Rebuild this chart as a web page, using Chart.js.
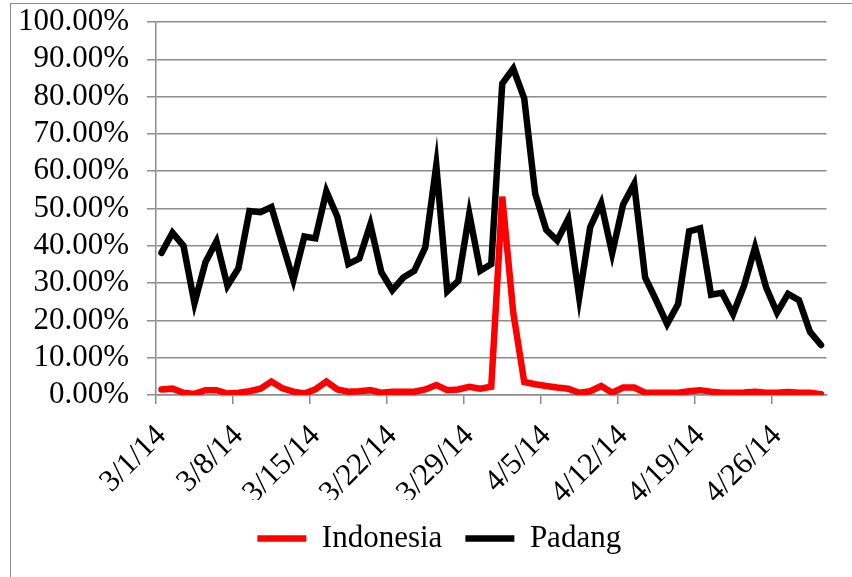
<!DOCTYPE html>
<html>
<head>
<meta charset="utf-8">
<script src="https://cdn.jsdelivr.net/npm/chart.js@4.4.1/dist/chart.umd.min.js"></script>
<style>
  html, body { margin: 0; padding: 0; background: #fff; overflow: hidden; }
  #wrap { position: relative; width: 852px; height: 577px; }
  #frame { position: absolute; left: 10px; top: 3px; width: 900px; height: 700px; border: 1.5px solid #8a8a8a; pointer-events: none; }
</style>
</head>
<body>
<div id="wrap">
  <canvas id="myChart" width="852" height="577"></canvas>
  <div id="frame"></div>
</div>
<script>
const dates = [
  "3/1/14", "3/2/14", "3/3/14", "3/4/14", "3/5/14", "3/6/14", "3/7/14",
  "3/8/14", "3/9/14", "3/10/14", "3/11/14", "3/12/14", "3/13/14", "3/14/14",
  "3/15/14", "3/16/14", "3/17/14", "3/18/14", "3/19/14", "3/20/14", "3/21/14",
  "3/22/14", "3/23/14", "3/24/14", "3/25/14", "3/26/14", "3/27/14", "3/28/14",
  "3/29/14", "3/30/14", "3/31/14", "4/1/14", "4/2/14", "4/3/14", "4/4/14",
  "4/5/14", "4/6/14", "4/7/14", "4/8/14", "4/9/14", "4/10/14", "4/11/14",
  "4/12/14", "4/13/14", "4/14/14", "4/15/14", "4/16/14", "4/17/14", "4/18/14",
  "4/19/14", "4/20/14", "4/21/14", "4/22/14", "4/23/14", "4/24/14", "4/25/14",
  "4/26/14", "4/27/14", "4/28/14", "4/29/14", "4/30/14"
];

const indonesia = [
  1.5, 1.7, 0.6, 0.3, 1.3, 1.3, 0.4, 0.6, 1.0, 1.7,
  3.6, 1.8, 0.9, 0.4, 1.5, 3.6, 1.5, 0.9, 1.0, 1.3,
  0.6, 0.9, 0.9, 0.9, 1.5, 2.7, 1.3, 1.5, 2.2, 1.7,
  2.2, 53.2, 22.1, 3.5, 2.9, 2.4, 2.0, 1.7, 0.6, 1.0,
  2.4, 0.6, 2.0, 2.0, 0.6, 0.6, 0.6, 0.6, 1.0, 1.3,
  0.9, 0.6, 0.6, 0.7, 0.9, 0.6, 0.6, 0.8, 0.6, 0.6,
  0.2
];

const padang = [
  38.1, 43.5, 40.0, 24.6, 35.6, 41.2, 29.3, 34.0, 49.3, 49.0,
  50.4, 40.5, 30.8, 42.5, 42.0, 54.6, 47.8, 35.1, 36.6, 45.7,
  32.9, 28.1, 31.5, 33.3, 39.6, 61.6, 27.8, 30.6, 48.6, 33.3,
  35.1, 83.5, 87.5, 79.5, 53.9, 44.3, 41.4, 47.2, 26.2, 45.0,
  51.4, 38.0, 51.1, 56.6, 31.5, 25.4, 19.0, 24.4, 43.9, 44.7,
  26.9, 27.4, 21.7, 29.3, 39.6, 28.9, 22.1, 27.1, 25.4, 16.9,
  13.4
];

const yTicks = [0, 10, 20, 30, 40, 50, 60, 70, 80, 90, 100];

const serif = "'Liberation Serif', 'Times New Roman', serif";
const gridGrey = "#8c8c8c";

// legend sits a bit right of the canvas centre in the original
const legendShift = {
  id: "legendShift",
  afterLayout(chart) {
    chart.legend.left += 52;
  },
};

new Chart("myChart", {
  type: "line",
  data: {
    labels: dates,
    datasets: [
      {
        label: "Indonesia",
        data: indonesia,
        borderColor: "#ff0000",
        backgroundColor: "#ff0000",
        borderWidth: 6.5,
        borderCapStyle: "round",
        pointRadius: 0,
        tension: 0,
        fill: false,
      },
      {
        label: "Padang",
        data: padang,
        borderColor: "#000000",
        backgroundColor: "#000000",
        borderWidth: 6.5,
        borderCapStyle: "round",
        pointRadius: 0,
        tension: 0,
        fill: false,
      },
    ],
  },
  plugins: [legendShift],
  options: {
    responsive: false,
    animation: false,
    layout: { padding: { left: 0, right: 25.5, top: 22, bottom: 13 } },
    plugins: {
      tooltip: { enabled: false },
      legend: {
        position: "bottom",
        labels: {
          usePointStyle: true,
          pointStyle: "line",
          pointStyleWidth: 49,
          padding: 23,
          color: "#000",
          font: { family: serif, size: 31 },
        },
      },
    },
    scales: {
      x: {
        offset: true,
        grid: {
          offset: true,
          drawOnChartArea: false,
          drawTicks: true,
          tickLength: 9,
          lineWidth: 1.5,
          color: (ctx) => (ctx.index % 7 === 0 ? gridGrey : "rgba(0,0,0,0)"),
        },
        border: { display: true, color: gridGrey, width: 1.5 },
        ticks: {
          autoSkip: false,
          minRotation: 45,
          maxRotation: 45,
          padding: 14,
          color: "#000",
          font: { family: serif, size: 31 },
          callback: function (val, i) {
            return i % 7 === 0 ? dates[i] : "";
          },
        },
        afterFit: (scale) => {
          scale.height = 105;
          scale.paddingLeft = 0;
          scale.paddingRight = 0;
        },
      },
      y: {
        min: 0,
        max: 100,
        grid: { color: gridGrey, lineWidth: 1.5, tickLength: 9 },
        border: { display: true, color: gridGrey, width: 1.5 },
        afterBuildTicks: (scale) => { scale.ticks = yTicks.map((v) => ({ value: v })); },
        ticks: {
          autoSkip: false,
          padding: 18,
          color: "#000",
          font: { family: serif, size: 31 },
          callback: (v) => v.toFixed(2) + "%",
        },
        afterFit: (scale) => {
          scale.width = 156;
          scale.paddingTop = 0;
          scale.paddingBottom = 0;
        },
      },
    },
  },
});
</script>
</body>
</html>
